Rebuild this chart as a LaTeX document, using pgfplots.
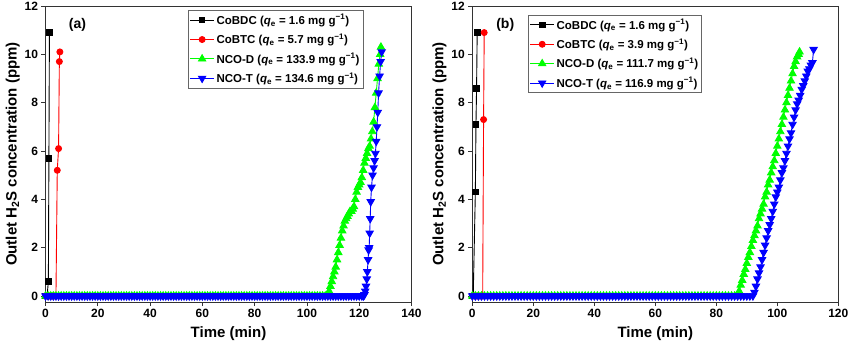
\documentclass[border=0pt]{standalone}
\usepackage{fontspec}
\setmainfont{Liberation Sans}
\usepackage{pgfplots}
\pgfplotsset{compat=1.18}
\definecolor{cgreen}{RGB}{0,255,0}
\definecolor{cred}{RGB}{255,0,0}
\definecolor{cblue}{RGB}{0,0,255}
\pgfplotsset{
  mystyle/.style={
    scale only axis, width=366pt, height=296pt,
    ymin=-0.25, ymax=12, ytick={0,2,4,6,8,10,12},
    xmin=0,
    axis line style={line width=0.7pt, black!80},
    tick align=outside, tick pos=left,
    major tick length=4pt,
    every tick/.style={line width=0.7pt, black!80},
    /pgf/number format/assume math mode=true,
    ticklabel style={font=\fontsize{12}{14}\selectfont\bfseries},
    label style={font=\fontsize{15}{18}\selectfont\bfseries},
    xlabel={Time (min)},
    ylabel={Outlet H\textsubscript{2}S concentration (ppm)},
    xlabel style={yshift=-2pt},
    ylabel style={yshift=-2pt},
    legend cell align=left,
    legend style={draw=black!60, line width=0.6pt, font=\fontsize{11.5}{13}\selectfont\bfseries,
      inner xsep=1.5pt, inner ysep=2pt, row sep=4pt},
    legend image code/.code={\draw[mark repeat=2,mark phase=2,#1] plot coordinates {(0pt,0pt)(12pt,0pt)(24pt,0pt)};},
    every axis plot/.append style={line width=0.9pt},
  },
  sq/.style={black, mark=square*, mark size=2.8pt, mark options={solid}},
  ci/.style={cred, mark=*, mark size=3pt, mark options={solid}},
  tu/.style={cgreen, mark=triangle*, mark size=4.2pt, mark options={solid}},
  td/.style={cblue, mark=triangle*, mark size=4.2pt, mark options={solid, rotate=180}},
}
\begin{document}
\begin{tikzpicture}
\path[use as bounding box] (0,0) rectangle (850pt,351pt);
% ---------------- (a)
\begin{axis}[mystyle, at={(45.5pt,49pt)}, anchor=south west,
  xmax=140, xtick={0,20,40,60,80,100,120,140},
  legend style={at={(0.389,0.986)}, anchor=north west}]
\addplot[sq] coordinates {(0,0)(0.3,0)(0.6,0)(1.1,0.6)(1.3,5.7)(1.5,10.9)};
\addlegendentry{CoBDC (\textit{q}\textsubscript{e} = 1.6 mg g\textsuperscript{−1})}
\addplot[ci] coordinates {(0,0)(0.5,0)(1,0)(1.5,0)(2,0)(2.5,0)(3,0)(3.5,0)(4.0,0)(4.5,5.2)(5.0,6.1)(5.3,9.7)(5.5,10.1)};
\addlegendentry{CoBTC (\textit{q}\textsubscript{e} = 5.7 mg g\textsuperscript{−1})}
\addplot[tu] coordinates {(0,0)(1,0)(2,0)(3,0)(4,0)(5,0)(6,0)(7,0)(8,0)(9,0)(10,0)(11,0)(12,0)(13,0)(14,0)(15,0)(16,0)(17,0)(18,0)(19,0)(20,0)(21,0)(22,0)(23,0)(24,0)(25,0)(26,0)(27,0)(28,0)(29,0)(30,0)(31,0)(32,0)(33,0)(34,0)(35,0)(36,0)(37,0)(38,0)(39,0)(40,0)(41,0)(42,0)(43,0)(44,0)(45,0)(46,0)(47,0)(48,0)(49,0)(50,0)(51,0)(52,0)(53,0)(54,0)(55,0)(56,0)(57,0)(58,0)(59,0)(60,0)(61,0)(62,0)(63,0)(64,0)(65,0)(66,0)(67,0)(68,0)(69,0)(70,0)(71,0)(72,0)(73,0)(74,0)(75,0)(76,0)(77,0)(78,0)(79,0)(80,0)(81,0)(82,0)(83,0)(84,0)(85,0)(86,0)(87,0)(88,0)(89,0)(90,0)(91,0)(92,0)(93,0)(94,0)(95,0)(96,0)(97,0)(98,0)(99,0)(100,0)(101,0)(102,0)(103,0)(104,0)(105,0)(106,0)(107,0)(108,0)
(108.5,0.2)(109,0.4)(109.5,0.6)(110,0.8)(110.5,1.0)(111,1.2)(111.5,1.5)(112,1.8)(112.5,2.1)(113,2.4)(113.5,2.7)(114,2.9)(114.5,3.1)(115,3.2)(115.5,3.3)(116,3.4)(116.5,3.5)(117,3.5)(117.5,3.6)(118,3.7)(118.5,4.0)(119,4.3)(119.5,4.5)(120,4.6)(120.5,4.7)(121,4.9)(121.5,5.2)(122,5.5)(122.5,5.7)(123,5.9)(123.5,6.1)(124,6.2)(124.5,6.5)(125,6.8)(125.5,7.2)(126,7.8)(126.5,8.4)(127,9.0)(127.5,9.6)(128,10.0)(128.3,10.3)};
\addlegendentry{NCO-D (\textit{q}\textsubscript{e} = 133.9 mg g\textsuperscript{−1})}
\addplot[td] coordinates {(0,0)(1,0)(2,0)(3,0)(4,0)(5,0)(6,0)(7,0)(8,0)(9,0)(10,0)(11,0)(12,0)(13,0)(14,0)(15,0)(16,0)(17,0)(18,0)(19,0)(20,0)(21,0)(22,0)(23,0)(24,0)(25,0)(26,0)(27,0)(28,0)(29,0)(30,0)(31,0)(32,0)(33,0)(34,0)(35,0)(36,0)(37,0)(38,0)(39,0)(40,0)(41,0)(42,0)(43,0)(44,0)(45,0)(46,0)(47,0)(48,0)(49,0)(50,0)(51,0)(52,0)(53,0)(54,0)(55,0)(56,0)(57,0)(58,0)(59,0)(60,0)(61,0)(62,0)(63,0)(64,0)(65,0)(66,0)(67,0)(68,0)(69,0)(70,0)(71,0)(72,0)(73,0)(74,0)(75,0)(76,0)(77,0)(78,0)(79,0)(80,0)(81,0)(82,0)(83,0)(84,0)(85,0)(86,0)(87,0)(88,0)(89,0)(90,0)(91,0)(92,0)(93,0)(94,0)(95,0)(96,0)(97,0)(98,0)(99,0)(100,0)(101,0)(102,0)(103,0)(104,0)(105,0)(106,0)(107,0)(108,0)(109,0)(110,0)(111,0)(112,0)(113,0)(114,0)(115,0)(116,0)(117,0)(118,0)(119,0)(120,0)(121,0)(121.6,0)
(122,0.05)(122.3,0.2)(122.6,0.4)(122.9,0.7)(123.1,1.0)(123.4,1.5)(123.6,1.9)(123.8,2.0)(124.0,2.6)(124.2,3.2)(124.4,3.9)(124.7,4.5)(125.1,5.0)(125.5,5.3)(125.9,5.6)(126.2,5.9)(126.5,6.4)(126.8,7.0)(127.1,7.6)(127.4,8.4)(127.8,9.1)(128.2,9.7)(128.6,10.1)};
\addlegendentry{NCO-T (\textit{q}\textsubscript{e} = 134.6 mg g\textsuperscript{−1})}
\node[font=\fontsize{14}{16}\selectfont\bfseries] at (axis cs:12.2,11.2) {(a)};
\end{axis}
% ---------------- (b)
\begin{axis}[mystyle, at={(472.3pt,49pt)}, anchor=south west,
  xmax=120, xtick={0,20,40,60,80,100,120},
  legend style={at={(0.152,0.970)}, anchor=north west}]
\addplot[sq] coordinates {(0,0)(0.3,0)(1.0,4.3)(1.2,7.1)(1.4,8.6)(1.6,10.9)};
\addlegendentry{CoBDC (\textit{q}\textsubscript{e} = 1.6 mg g\textsuperscript{−1})}
\addplot[ci] coordinates {(0,0)(0.5,0)(1,0)(1.5,0)(2,0)(2.5,0)(3,0)(3.4,0)(3.7,7.3)(3.9,10.9)};
\addlegendentry{CoBTC (\textit{q}\textsubscript{e} = 3.9 mg g\textsuperscript{−1})}
\addplot[tu] coordinates {(0,0)(1,0)(2,0)(3,0)(4,0)(5,0)(6,0)(7,0)(8,0)(9,0)(10,0)(11,0)(12,0)(13,0)(14,0)(15,0)(16,0)(17,0)(18,0)(19,0)(20,0)(21,0)(22,0)(23,0)(24,0)(25,0)(26,0)(27,0)(28,0)(29,0)(30,0)(31,0)(32,0)(33,0)(34,0)(35,0)(36,0)(37,0)(38,0)(39,0)(40,0)(41,0)(42,0)(43,0)(44,0)(45,0)(46,0)(47,0)(48,0)(49,0)(50,0)(51,0)(52,0)(53,0)(54,0)(55,0)(56,0)(57,0)(58,0)(59,0)(60,0)(61,0)(62,0)(63,0)(64,0)(65,0)(66,0)(67,0)(68,0)(69,0)(70,0)(71,0)(72,0)(73,0)(74,0)(75,0)(76,0)(77,0)(78,0)(79,0)(80,0)(81,0)(82,0)(83,0)(84,0)(85,0)(86,0)(87,0)
(87.5,0.2)(88,0.45)(88.5,0.65)(89,0.9)(89.5,1.1)(90,1.35)(90.5,1.6)(91,1.8)(91.5,2.05)(92,2.3)(92.5,2.5)(93,2.7)(93.5,2.9)(94,3.2)(94.5,3.4)(95,3.6)(95.5,3.8)(96,4.1)(96.5,4.3)(97,4.6)(97.5,4.8)(98,5.1)(98.5,5.35)(99,5.6)(99.5,5.9)(100,6.2)(100.5,6.5)(101,6.8)(101.5,7.1)(102,7.4)(102.5,7.7)(103,8.0)(103.5,8.3)(104,8.6)(104.5,8.9)(105,9.2)(105.5,9.5)(106,9.7)(106.5,9.9)(107,10.0)(107.3,10.1)};
\addlegendentry{NCO-D (\textit{q}\textsubscript{e} = 111.7 mg g\textsuperscript{−1})}
\addplot[td] coordinates {(0,0)(1,0)(2,0)(3,0)(4,0)(5,0)(6,0)(7,0)(8,0)(9,0)(10,0)(11,0)(12,0)(13,0)(14,0)(15,0)(16,0)(17,0)(18,0)(19,0)(20,0)(21,0)(22,0)(23,0)(24,0)(25,0)(26,0)(27,0)(28,0)(29,0)(30,0)(31,0)(32,0)(33,0)(34,0)(35,0)(36,0)(37,0)(38,0)(39,0)(40,0)(41,0)(42,0)(43,0)(44,0)(45,0)(46,0)(47,0)(48,0)(49,0)(50,0)(51,0)(52,0)(53,0)(54,0)(55,0)(56,0)(57,0)(58,0)(59,0)(60,0)(61,0)(62,0)(63,0)(64,0)(65,0)(66,0)(67,0)(68,0)(69,0)(70,0)(71,0)(72,0)(73,0)(74,0)(75,0)(76,0)(77,0)(78,0)(79,0)(80,0)(81,0)(82,0)(83,0)(84,0)(85,0)(86,0)(87,0)(88,0)(89,0)(90,0)(91,0)(92,0)
(92.5,0.15)(93,0.4)(93.5,0.7)(94,0.95)(94.5,1.2)(95,1.5)(95.5,1.8)(96,2.1)(96.5,2.4)(97,2.7)(97.5,2.95)(98,3.2)(98.5,3.5)(99,3.8)(99.5,4.1)(100,4.3)(100.5,4.5)(101,4.8)(101.5,5.1)(102,5.3)(102.5,5.6)(103,5.9)(103.5,6.2)(104,6.5)(104.5,6.75)(105,7.1)(105.5,7.4)(106,7.7)(106.5,7.95)(107,8.1)(107.5,8.3)(108,8.55)(108.5,8.7)(109,8.9)(109.5,9.1)(110,9.3)(110.5,9.4)(111,9.55)(111.5,9.65)(111.9,10.2)};
\addlegendentry{NCO-T (\textit{q}\textsubscript{e} = 116.9 mg g\textsuperscript{−1})}
\node[font=\fontsize{14}{16}\selectfont\bfseries] at (axis cs:10.8,11.2) {(b)};
\end{axis}
\end{tikzpicture}
\end{document}
